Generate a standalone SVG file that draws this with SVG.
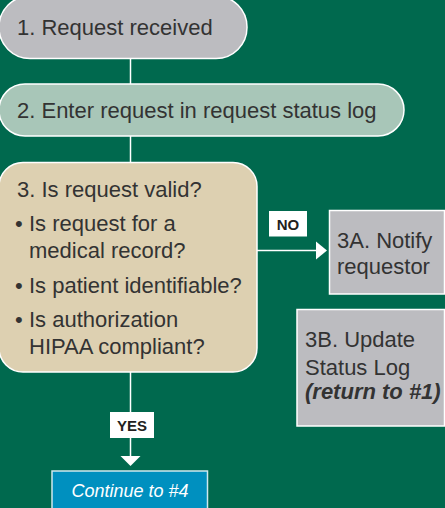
<svg xmlns="http://www.w3.org/2000/svg" width="445" height="508" viewBox="0 0 445 508">
  <defs>
    <style>
      .t { font-family: "Liberation Sans", Arial, sans-serif; font-size: 22px; fill: #333333; }
      .lbl { font-family: "Liberation Sans", Arial, sans-serif; font-size: 15px; font-weight: bold; fill: #231f20; text-anchor: middle; }
      .box { stroke: #ffffff; stroke-width: 1.5; }
      .gray { fill: #bcbcc0; }
      .conn { stroke: #ffffff; stroke-width: 1.5; fill: none; }
      .head { fill: #ffffff; }
    </style>
  </defs>
  <rect x="0" y="0" width="445" height="508" fill="#00694e"/>

  <g id="connectors">
    <line class="conn" x1="130.5" y1="58" x2="130.5" y2="84"/>
    <line class="conn" x1="130.5" y1="136" x2="130.5" y2="163"/>
    <line class="conn" x1="257" y1="250.5" x2="317" y2="250.5"/>
    <polygon class="head" points="316,241.5 327,250.5 316,259.5"/>
    <line class="conn" x1="130.5" y1="372" x2="130.5" y2="457"/>
    <polygon class="head" points="120.5,456 140.5,456 130.5,466"/>
    <rect x="269" y="211" width="38" height="25.5" fill="#ffffff"/>
    <text class="lbl" x="288" y="230">NO</text>
    <rect x="110" y="412" width="44" height="26" fill="#ffffff"/>
    <text class="lbl" x="132" y="431">YES</text>
  </g>

  <g id="node1">
    <rect class="box gray" x="-1" y="-4" width="248" height="62.5" rx="31" ry="31"/>
    <text class="t" x="17" y="35">1. Request received</text>
  </g>

  <g id="node2">
    <rect class="box" x="-1" y="84" width="405" height="52" rx="26" ry="26" fill="#a8c6b8"/>
    <text class="t" x="17" y="118">2. Enter request in request status log</text>
  </g>

  <g id="node3">
    <rect class="box" x="-1" y="162.5" width="258" height="209.5" rx="24" ry="24" fill="#ddd0b1"/>
    <text class="t" x="17" y="197">3. Is request valid?</text>
    <text class="t" x="15" y="231">•</text>
    <text class="t" x="29" y="231">Is request for a</text>
    <text class="t" x="29" y="258">medical record?</text>
    <text class="t" x="15" y="293">•</text>
    <text class="t" x="29" y="293">Is patient identifiable?</text>
    <text class="t" x="15" y="327">•</text>
    <text class="t" x="29" y="327">Is authorization</text>
    <text class="t" x="29" y="354">HIPAA compliant?</text>
  </g>

  <g id="node3a">
    <rect class="box gray" x="329.5" y="210.5" width="115" height="83.5"/>
    <text class="t" x="337" y="248">3A. Notify</text>
    <text class="t" x="337" y="274">requestor</text>
  </g>

  <g id="node3b">
    <rect class="box gray" x="297" y="309.5" width="147.5" height="116.5"/>
    <text class="t" x="305" y="347">3B. Update</text>
    <text class="t" x="305" y="375">Status Log</text>
    <text class="t" x="305" y="399" font-style="italic" font-weight="bold" font-size="21">(return to #1)</text>
  </g>

  <g id="node4">
    <rect x="52" y="471" width="155.5" height="45" fill="#0090bf" stroke="#cfe8ee" stroke-width="1.5"/>
    <text x="130" y="497" text-anchor="middle" font-family="Liberation Sans, Arial, sans-serif" font-size="18" font-style="italic" fill="#ffffff">Continue to #4</text>
  </g>
</svg>
